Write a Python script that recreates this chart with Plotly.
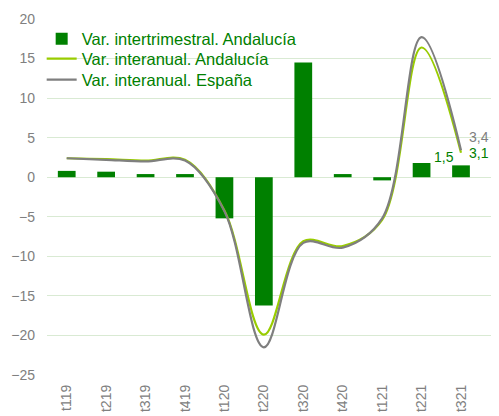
import plotly.graph_objects as go

categories = ["t119", "t219", "t319", "t419", "t120", "t220", "t320", "t420", "t121", "t221", "t321"]
var_intertrimestral_and = [0.8, 0.7, 0.4, 0.4, -5.2, -16.2, 14.5, 0.4, -0.4, 1.8, 1.5]
var_interanual_and = [2.4, 2.3, 2.1, 2.2, -4.2, -19.9, -8.1, -8.7, -5.4, 16.4, 3.1]
var_interanual_esp = [2.4, 2.2, 2.0, 2.1, -4.3, -21.5, -8.3, -8.9, -5.2, 17.7, 3.4]

GREEN = "#008000"
LIME = "#99CC00"
GRAY = "#7F7F7F"
FONT = "Liberation Sans, Arial, sans-serif"

fig = go.Figure()
fig.add_trace(go.Bar(
    x=categories, y=var_intertrimestral_and, name="Var. intertrimestral. Andalucía",
    marker=dict(color=GREEN, line=dict(width=0)), width=0.45, legend="legend",
))
fig.add_trace(go.Scatter(
    x=categories, y=var_interanual_and, name="Var. interanual. Andalucía",
    mode="lines", line=dict(color=LIME, width=2.2, shape="spline", smoothing=1.0),
    legend="legend2",
))
fig.add_trace(go.Scatter(
    x=categories, y=var_interanual_esp, name="Var. interanual. España",
    mode="lines", line=dict(color=GRAY, width=2.2, shape="spline", smoothing=1.0),
    legend="legend3",
))

fig.add_annotation(x=categories[-1], y=var_intertrimestral_and[-1], text="1,5",
                   showarrow=False, xshift=-17, yshift=8, font=dict(family=FONT, color=GREEN, size=14))
fig.add_annotation(x=categories[-1], y=var_interanual_esp[-1], text="3,4",
                   showarrow=False, xshift=18, yshift=13, font=dict(family=FONT, color=GRAY, size=14))
fig.add_annotation(x=categories[-1], y=var_interanual_and[-1], text="3,1",
                   showarrow=False, xshift=18, yshift=0, font=dict(family=FONT, color=GREEN, size=14))

legend_style = dict(xanchor="left", yanchor="middle",
                    font=dict(family=FONT, size=16.5, color=GREEN),
                    bgcolor="rgba(0,0,0,0)", itemwidth=30)

# page has an 8px body margin, so the figure is sized to fill the rest of the window
fig.update_layout(
    width=491, height=408,
    margin=dict(l=39, r=8, t=11, b=41),
    paper_bgcolor="white", plot_bgcolor="white",
    font=dict(family=FONT, size=14, color="#808080"),
    showlegend=True,
    legend=dict(x=-0.012, y=0.944, **legend_style),
    legend2=dict(x=-0.012, y=0.888, **legend_style),
    legend3=dict(x=-0.012, y=0.829, **legend_style),
)
fig.update_xaxes(type="category", showgrid=False, zeroline=False, showline=False,
                 tickangle=-90, ticks="", automargin=False, ticklabelstandoff=6,
                 tickfont=dict(family=FONT, size=14, color="#808080"))
fig.update_yaxes(range=[-25, 20], dtick=5, showgrid=True, gridcolor="#D9EAD3", gridwidth=1,
                 zeroline=True, zerolinecolor="#D9EAD3", zerolinewidth=1,
                 showline=False, ticks="", automargin=False, ticklabelstandoff=11,
                 tickfont=dict(family=FONT, size=14, color="#808080"))

fig.write_html("out.html")
